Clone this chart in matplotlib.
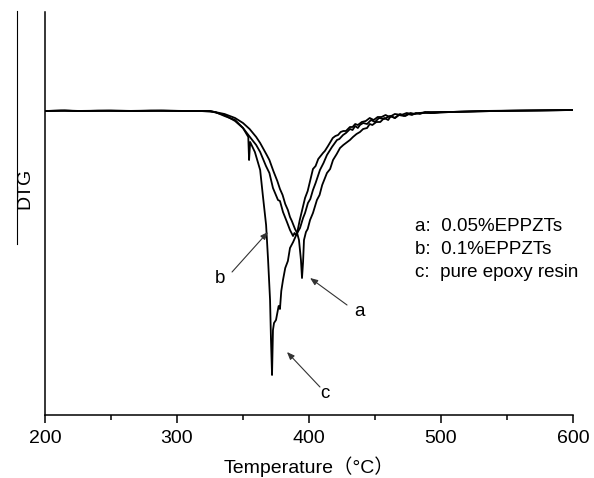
import matplotlib
matplotlib.use("Agg")
import matplotlib.pyplot as plt
from matplotlib.lines import Line2D
from matplotlib.ticker import MultipleLocator

plt.rcParams['font.family'] = ['Liberation Sans', 'Noto Sans CJK SC', 'DejaVu Sans']

# ---- data: (temperature °C, DTG arbitrary units) ----
c_points = [(200, 0.0), (215, 0.005), (222, 0.0), (240, 0.003), (260, 0.0), (280, 0.004), (300, 0.0),
            (318, 0.0), (329, -0.01), (336, -0.05), (344, -0.09), (350, -0.17), (354, -0.26),
            (354.6, -0.49), (355.4, -0.31), (359, -0.41), (363, -0.59), (365, -0.84), (367.5, -1.14),
            (369, -1.49), (370.5, -1.89), (371.2, -2.29), (372, -2.64), (372.7, -2.19), (373.5, -2.12),
            (375, -2.09), (377, -1.95), (378, -1.98), (379, -1.80), (380.3, -1.69), (382, -1.57),
            (384, -1.50), (385.6, -1.37), (388, -1.31), (391, -1.22), (393, -1.09), (397, -0.87),
            (399, -0.80), (401, -0.69), (403, -0.58), (405, -0.55), (407, -0.48), (410.6, -0.42),
            (412, -0.40), (414.4, -0.35), (418, -0.27), (420, -0.25), (422, -0.24), (424, -0.21),
            (426, -0.20), (428, -0.20), (431, -0.16), (433, -0.16), (435, -0.13), (437, -0.14),
            (440, -0.11), (443, -0.10), (446, -0.07), (449, -0.09), (452, -0.06), (455, -0.06),
            (458, -0.04), (461, -0.06), (465, -0.03), (470, -0.04), (474, -0.02), (478, -0.03),
            (484, -0.02), (490, -0.01), (507, -0.01), (530, 0.0), (560, 0.005), (600, 0.01)]

a_points = [(200, 0.0), (215, 0.003), (230, 0.0), (250, 0.004), (270, 0.0), (290, 0.003), (310, 0.0),
            (325, 0.0), (336, -0.03), (344, -0.07), (350, -0.12), (355, -0.18), (360, -0.26),
            (363, -0.32), (368, -0.44), (370, -0.49), (373, -0.60), (376, -0.70), (378, -0.78),
            (380, -0.84), (382, -0.93), (384, -0.99), (385.6, -1.06), (387, -1.10), (389.4, -1.18),
            (391, -1.22), (392.4, -1.29), (393.9, -1.49), (394.7, -1.67), (395.5, -1.51), (396.2, -1.29),
            (397.7, -1.21), (399, -1.18), (400.8, -1.09), (403, -1.02), (406, -0.89), (408, -0.84),
            (410, -0.74), (413.6, -0.62), (416, -0.58), (418.2, -0.49), (421, -0.43), (423.5, -0.37),
            (426, -0.34), (429, -0.31), (431, -0.29), (433.3, -0.26), (436, -0.23), (438.6, -0.21),
            (441, -0.18), (444, -0.17), (446, -0.13), (448, -0.14), (451, -0.11), (454, -0.11),
            (457, -0.07), (460, -0.09), (462, -0.05), (465, -0.07), (468, -0.04), (472, -0.05),
            (475, -0.03), (478, -0.04), (481, -0.02), (484, -0.03), (488, -0.01), (492, -0.02),
            (500, -0.01), (507, -0.01), (540, 0.0), (570, 0.005), (600, 0.01)]

b_points = [(200, 0.0), (212, 0.004), (228, 0.0), (248, 0.003), (268, 0.0), (288, 0.004), (305, 0.0),
            (325, 0.0), (336, -0.04), (344, -0.10), (350, -0.17), (357, -0.29), (360, -0.34),
            (363, -0.41), (367.4, -0.55), (370, -0.62), (372.7, -0.77), (376.5, -0.89), (378, -0.90),
            (380.3, -1.01), (383.3, -1.11), (385.6, -1.19), (387.9, -1.25), (389, -1.22), (390.2, -1.24),
            (393.2, -1.17), (395.5, -1.07), (397, -1.02), (399.2, -0.92), (401, -0.88), (403, -0.79),
            (405, -0.72), (408.3, -0.59), (411, -0.52), (413.6, -0.44), (417.4, -0.36), (421.2, -0.29),
            (423, -0.28), (425.8, -0.24), (428, -0.22), (431.1, -0.18), (433, -0.19), (435, -0.15),
            (437, -0.17), (438.6, -0.14), (441, -0.12), (444, -0.13), (447, -0.09), (450, -0.11),
            (453, -0.07), (457, -0.08), (461, -0.05), (465.2, -0.07), (469, -0.03), (473, -0.05),
            (477, -0.02), (480, -0.03), (484, -0.02), (495, -0.02), (507, -0.01), (540, 0.0),
            (575, 0.005), (600, 0.01)]

legend_lines = ["a:  0.05%EPPZTs", "b:  0.1%EPPZTs", "c:  pure epoxy resin"]
x_ticks = [200, 300, 400, 500, 600]

# ---- figure ----
W, H = 594, 478
fig = plt.figure(figsize=(W / 100, H / 100), dpi=100)
ax = fig.add_axes([45 / W, 1 - 415 / H, (573 - 45) / W, (415 - 12) / H])

for pts in (a_points, b_points, c_points):
    t, d = zip(*pts)
    ax.plot(t, d, color='black', lw=1.3, solid_joinstyle='round')

ax.set_xlim(200, 600)
ax.set_ylim(-3.04, 0.99)
ax.spines['top'].set_visible(False)
ax.spines['right'].set_visible(False)
for s in ['left', 'bottom']:
    ax.spines[s].set_linewidth(1.1)
ax.set_xticks(x_ticks)
ax.set_xticklabels([str(v) for v in x_ticks])
ax.xaxis.set_minor_locator(MultipleLocator(50))
ax.tick_params(axis='x', which='major', direction='out', length=6, width=1.1, labelsize=14, pad=5)
ax.tick_params(axis='x', which='minor', direction='out', length=3.5, width=1.1)
ax.set_yticks([])

# legend text
leg_y = [-1.15, -1.38, -1.61]
for s, y in zip(legend_lines, leg_y):
    ax.text(480.3, y, s, ha='left', va='center', fontsize=13.5)

# curve labels with arrows
arrow_kw = dict(arrowstyle='-|>,head_length=0.45,head_width=0.18', color='#333333', lw=0.8,
                shrinkA=0, shrinkB=0)
ax.annotate('', xy=(368.9, -1.21), xytext=(341.7, -1.61), arrowprops=arrow_kw)
ax.text(332.6, -1.67, 'b', ha='center', va='center', fontsize=13.5)
ax.annotate('', xy=(400.8, -1.67), xytext=(428.8, -1.94), arrowprops=arrow_kw)
ax.text(437.9, -2.01, 'a', ha='center', va='center', fontsize=13.5)
ax.annotate('', xy=(383.3, -2.41), xytext=(408.3, -2.76), arrowprops=arrow_kw)
ax.text(412.1, -2.82, 'c', ha='center', va='center', fontsize=13.5)

# axis labels
fig.text(309 / W, 1 - 467 / H, 'Temperature（°C）', ha='center', va='center', fontsize=14)
fig.text(25 / W, 1 - 188 / H, 'DTG', ha='center', va='center', rotation=90, fontsize=14)
fig.add_artist(Line2D([17 / W, 17 / W], [1 - 11 / H, 1 - 244 / H], color='black', lw=0.8))

fig.savefig('out.png', dpi=100)
